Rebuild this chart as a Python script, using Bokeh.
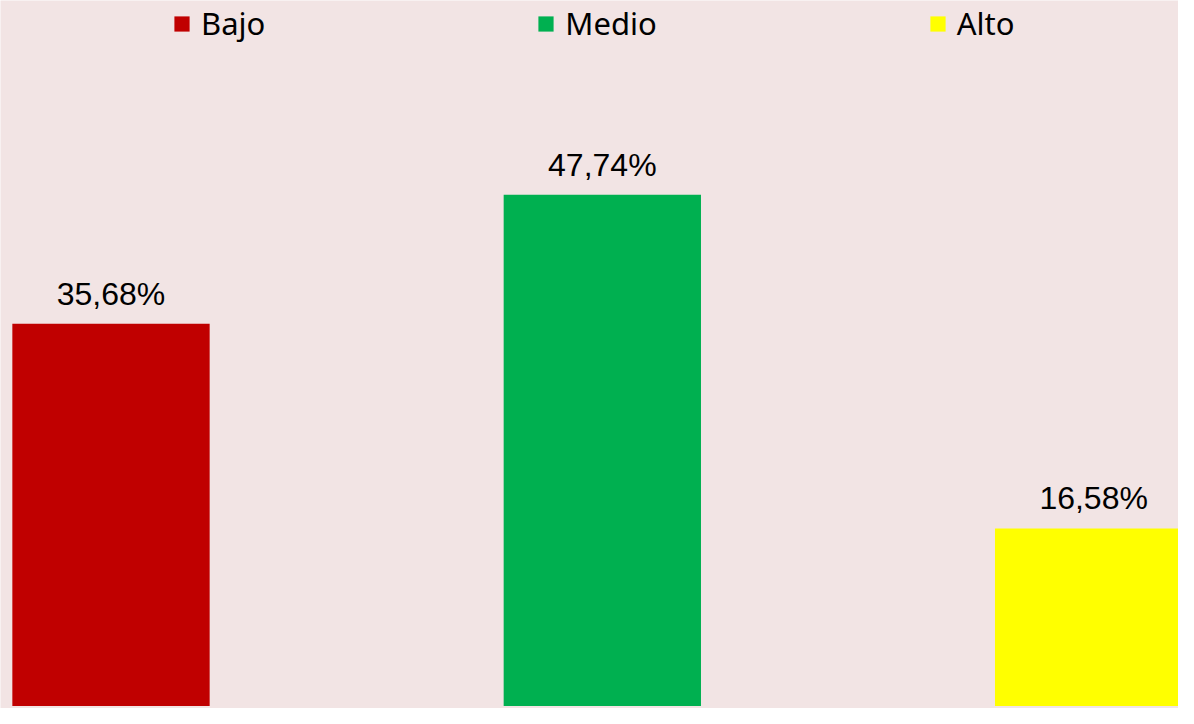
from bokeh.plotting import figure
from bokeh.models import ColumnDataSource, Range1d, Legend, LegendItem, LabelSet
from bokeh.core.properties import value
from bokeh.embed import file_html
from bokeh.resources import INLINE

categories = ["Bajo", "Medio", "Alto"]
values = [35.68, 47.74, 16.58]
labels = ["35,68%", "47,74%", "16,58%"]
colors = ["#C00000", "#00B050", "#FFFF00"]

W, H = 1178, 708
BG = "#F2E4E4"

src = ColumnDataSource(dict(x=list(range(len(categories))), top=values,
                            cat=categories, lab=labels, color=colors))

p = figure(width=W, height=H, output_backend="svg", toolbar_location=None,
           x_range=Range1d(-0.2249, 2.1727), y_range=Range1d(-0.23, 65.87),
           min_border=0, min_border_left=0, min_border_right=0,
           min_border_top=0, min_border_bottom=0,
           background_fill_color=BG, border_fill_color=BG, outline_line_color=None)
p.axis.visible = False
p.xgrid.visible = False
p.ygrid.visible = False

r = p.vbar(x="x", top="top", width=0.4016, bottom=0, color="color", line_color=None, source=src)

lbl = LabelSet(x="x", y="top", text="lab", source=src, text_align="center",
               text_baseline="alphabetic", y_offset=19, text_font=value("Liberation Sans"),
               text_font_size="32px", text_color="#000000")
p.add_layout(lbl)

items = [LegendItem(label=c, renderers=[r], index=i) for i, c in enumerate(categories)]
legend = Legend(items=items, orientation="horizontal", location=(172, 664),
                padding=0, margin=0, spacing=271, label_standoff=10,
                glyph_width=19, glyph_height=19, label_height=34,
                label_text_font="Noto Sans", label_text_font_size="31px",
                label_text_color="#000000", border_line_color=None,
                background_fill_alpha=0)
p.add_layout(legend)

open("out.html", "w").write(file_html(p, INLINE))
